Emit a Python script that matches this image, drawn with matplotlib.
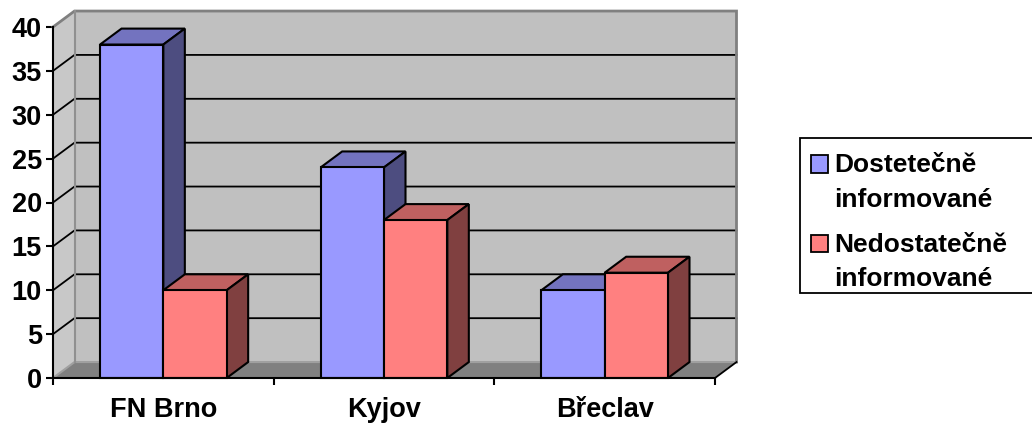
import matplotlib
matplotlib.use('Agg')
import matplotlib.pyplot as plt
from matplotlib.patches import Polygon, Patch

plt.rcParams['font.family'] = ['Liberation Sans', 'DejaVu Sans']
plt.rcParams['font.weight'] = 'bold'

categories = ['FN Brno', 'Kyjov', 'Břeclav']
dostatecne = [38, 24, 10]
nedostatecne = [10, 18, 12]
series_names = ['Dostetečně\ninformované', 'Nedostatečně\ninformované']
y_ticks = [0, 5, 10, 15, 20, 25, 30, 35, 40]

# barvy: predek, vrsek, bok
blue = ('#9999FF', '#7373BF', '#4D4D80')
red = ('#FF8080', '#BF6060', '#804040')

W, H = 1032, 425
fig = plt.figure(figsize=(W / 100, H / 100), dpi=100)
ax = fig.add_axes([53 / W, (H - 378) / H, 662 / W, 351 / H])
ax.set_xlim(0, len(categories))
ax.set_ylim(0, 40)
ax.patch.set_visible(False)

# hloubka 3D v jednotkach dat
dx = 21.5 / (662 / 3)
dy = 16 / 8.8
n = len(categories)


def poly(pts, fc, ec='black', lw=1.5, z=1):
    ax.add_patch(Polygon(pts, closed=True, facecolor=fc, edgecolor=ec, linewidth=lw,
                         clip_on=False, zorder=z, joinstyle='miter'))


# steny a podlaha
poly([(0, 0), (dx, dy), (dx, 40 + dy), (0, 40)], '#C8C8C8', 'none', 0, 1)
poly([(dx, dy), (n + dx, dy), (n + dx, 40 + dy), (dx, 40 + dy)], '#C0C0C0', 'none', 0, 1)
poly([(0, 0), (n, 0), (n + dx, dy), (dx, dy)], '#808080', 'none', 0, 1)

# mrizka na zadni a bocni stene
for t in y_ticks[1:-1]:
    ax.plot([0, dx, n + dx], [t, t + dy, t + dy], color='black', lw=1.3, clip_on=False, zorder=2)
ax.plot([0, dx, n + dx, n + dx], [40, 40 + dy, 40 + dy, dy], color='#808080', lw=2, clip_on=False,
        zorder=2, solid_joinstyle='miter')
ax.plot([0, dx, n + dx], [0, dy, dy], color='#A0A0A0', lw=1.5, clip_on=False, zorder=2)
ax.plot([dx, dx], [dy, 40 + dy], color='#909090', lw=1.5, clip_on=False, zorder=2)
ax.plot([n, n + dx], [0, dy], color='black', lw=1.3, clip_on=False, zorder=2)

bar_w = 0.287
gap = 0.213


def bar3d(x, v, cols, z):
    poly([(x, v), (x + dx, v + dy), (x + bar_w + dx, v + dy), (x + bar_w, v)], cols[1], z=z)
    poly([(x + bar_w, 0), (x + bar_w + dx, dy), (x + bar_w + dx, v + dy), (x + bar_w, v)], cols[2], z=z)
    poly([(x, 0), (x + bar_w, 0), (x + bar_w, v), (x, v)], cols[0], z=z)


for i in range(n):
    bar3d(i + gap, dostatecne[i], blue, 3 + 2 * i)
    bar3d(i + gap + bar_w, nedostatecne[i], red, 4 + 2 * i)

# osy
for s in ['top', 'right']:
    ax.spines[s].set_visible(False)
for s in ['left', 'bottom']:
    ax.spines[s].set_linewidth(1.5)
    ax.spines[s].set_zorder(20)

ax.set_yticks(y_ticks)
ax.tick_params(axis='y', length=5, width=1.5, pad=3, labelsize=19.5)
ax.set_xticks(range(n + 1))
ax.set_xticklabels([])
ax.set_xticks([i + 0.5 for i in range(n)], minor=True)
ax.set_xticklabels(categories, minor=True)
ax.tick_params(axis='x', which='major', length=5, width=1.5)
ax.tick_params(axis='x', which='minor', length=0, pad=14, labelsize=19.5)

handles = [Patch(facecolor=blue[0], edgecolor='black', linewidth=1.3),
           Patch(facecolor=red[0], edgecolor='black', linewidth=1.3)]
leg = fig.legend(handles, series_names, loc='upper left',
                 bbox_to_anchor=(800 / W, (H - 138) / H, 240 / W, 0), borderaxespad=0, mode='expand',
                 fancybox=False, edgecolor='black', framealpha=1, fontsize=19,
                 handlelength=0.64, handleheight=0.64, handletextpad=0.34, borderpad=0.32,
                 labelspacing=0.8)
leg.get_frame().set_linewidth(1.3)
for t in leg.get_texts():
    t.set_linespacing(1.55)
    t.set_y(-6.7)
# ctverecek u prvniho radku popisku
for p in leg.get_patches():
    p.set_y(p.get_y() + 8.5)
    p.set_x(p.get_x() + 2)

fig.savefig('out.png', dpi=100)
